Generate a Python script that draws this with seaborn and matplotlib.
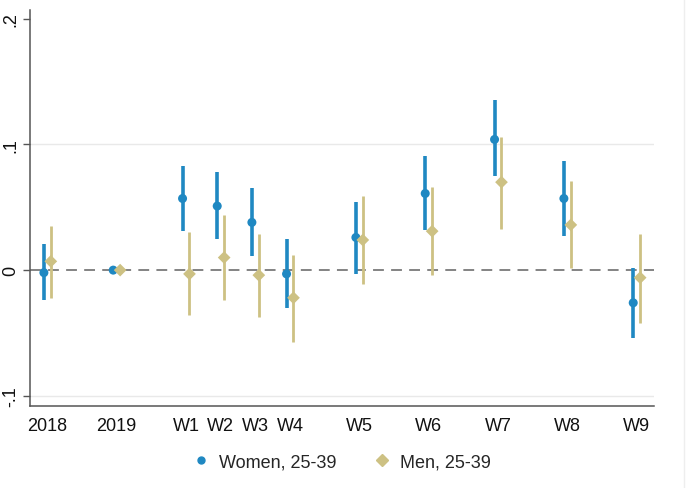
import numpy as np
import pandas as pd
import matplotlib
matplotlib.use("Agg")
import matplotlib.pyplot as plt
import matplotlib.lines as mlines
import seaborn as sns

# periods and where they sit on the x axis (gaps between groups as in the original)
periods = ["2018", "2019", "W1", "W2", "W3", "W4", "W5", "W6", "W7", "W8", "W9"]
positions = [0, 2, 4, 5, 6, 7, 9, 11, 13, 15, 17]

# point estimates and 95% CIs
women_est = [-0.002, 0.0, 0.057, 0.051, 0.038, -0.003, 0.026, 0.061, 0.104, 0.057, -0.026]
women_lo = [-0.024, np.nan, 0.031, 0.025, 0.011, -0.030, -0.003, 0.032, 0.075, 0.027, -0.054]
women_hi = [0.021, np.nan, 0.083, 0.078, 0.065, 0.025, 0.054, 0.091, 0.135, 0.087, 0.002]

men_est = [0.007, 0.0, -0.003, 0.010, -0.004, -0.022, 0.024, 0.031, 0.070, 0.036, -0.006]
men_lo = [-0.022, np.nan, -0.036, -0.024, -0.037, -0.057, -0.011, -0.004, 0.033, 0.002, -0.042]
men_hi = [0.035, np.nan, 0.030, 0.044, 0.029, 0.012, 0.059, 0.066, 0.106, 0.071, 0.029]

groups = ["Women, 25-39", "Men, 25-39"]
colors = {"Women, 25-39": "#1f88c2", "Men, 25-39": "#cdc183"}
markers = {"Women, 25-39": "o", "Men, 25-39": "D"}
offsets = {"Women, 25-39": -0.1, "Men, 25-39": 0.1}

df = pd.concat([
    pd.DataFrame({"period": periods, "pos": positions, "est": women_est,
                  "lo": women_lo, "hi": women_hi, "group": groups[0]}),
    pd.DataFrame({"period": periods, "pos": positions, "est": men_est,
                  "lo": men_lo, "hi": men_hi, "group": groups[1]}),
], ignore_index=True)
df["x"] = df["pos"] + df["group"].map(offsets)

sns.set_theme(style="white")
plt.rcParams["font.family"] = ["Liberation Sans", "DejaVu Sans"]

fig = plt.figure(figsize=(6.87, 4.89), dpi=100)
ax = fig.add_axes([0.0437, 0.168, 0.9083, 0.8095])

# grid + reference line
for yv in [-0.1, 0.1]:
    ax.axhline(yv, color="#e9e9e9", lw=1, zorder=0)
ax.axhline(0, color="#7a7a7a", lw=1.3, ls=(0, (6, 4)), zorder=1)

# confidence intervals
for g in groups:
    sub = df[df["group"] == g].dropna(subset=["lo"])
    ax.vlines(sub["x"], sub["lo"], sub["hi"], color=colors[g],
              lw=2.6 if g == groups[0] else 2.0, zorder=2)

sns.scatterplot(data=df, x="x", y="est", hue="group", style="group",
                palette=colors, markers=markers, s=[42], linewidth=0,
                legend=False, zorder=3, ax=ax)

ax.set_xlim(-0.5, 17.5)
ax.set_ylim(-0.108, 0.207)
ax.set_xticks(positions)
ax.set_xticklabels(periods, fontsize=13)
ax.set_yticks([-0.1, 0, 0.1, 0.2])
ax.set_yticklabels(["-.1", "0", ".1", ".2"], fontsize=13, rotation=90, va="center")
ax.tick_params(axis="x", length=0, pad=8, colors="#111111")
ax.tick_params(axis="y", length=5, width=1, color="#555555", pad=3, colors="#111111", left=True)
ax.set_xlabel("")
ax.set_ylabel("")

for s in ["top", "right"]:
    ax.spines[s].set_visible(False)
for s in ["left", "bottom"]:
    ax.spines[s].set_color("#555555")
    ax.spines[s].set_linewidth(1.1)

# legend below the axis
handles = [mlines.Line2D([], [], color=colors[g], marker=markers[g], ls="",
                         markersize=5 if g == groups[0] else 6) for g in groups]
fig.legend(handles, groups, loc="center", bbox_to_anchor=(0.497, 0.053), ncol=2,
           frameon=False, fontsize=13, handletextpad=0.5, columnspacing=2.0,
           handlelength=1.0)

# thin border line at the right edge, as in the screenshot
fig.add_artist(mlines.Line2D([0.9956, 0.9956], [0, 1], color="#eeeeee", lw=1,
                             transform=fig.transFigure))

fig.savefig("out.png", dpi=100)
